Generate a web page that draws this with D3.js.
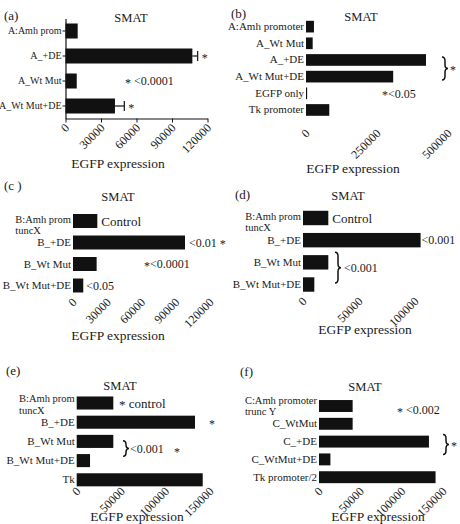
<!DOCTYPE html>
<html>
<head>
<meta charset="utf-8">
<script src="https://cdn.jsdelivr.net/npm/d3@7"></script>
<style>
  body { margin: 0; background: #fff; }
  svg text { font-family: "Liberation Serif", "Times New Roman", serif; fill: #1a1a1a; }
</style>
</head>
<body>
<div id="chart"></div>
<script>
// ---- data ----
var catsA = ["A:Amh prom", "A_+DE", "A_Wt Mut", "A_Wt Mut+DE"];
var valsA = [10300, 107200, 9500, 41800];
var errA = [0, 4500, 0, 7900];
var ticksA = [0, 30000, 60000, 90000, 120000];

var catsB = ["A:Amh promoter", "A_Wt Mut", "A_+DE", "A_Wt Mut+DE", "EGFP only", "Tk promoter"];
var valsB = [28000, 23500, 422500, 307000, 4000, 82000];
var ticksB = [0, 250000, 500000];

var catsC = ["B:Amh prom\ntuncX", "B_+DE", "B_Wt Mut", "B_Wt Mut+DE"];
var valsC = [21300, 98100, 20700, 9000];
var ticksC = [0, 30000, 60000, 90000, 120000];

var catsD = ["B:Amh prom\ntuncX", "B_+DE", "B_Wt Mut", "B_Wt Mut+DE"];
var valsD = [22600, 105000, 22600, 10100];
var ticksD = [0, 50000, 100000];

var catsE = ["B:Amh prom\ntuncX", "B_+DE", "B_Wt Mut", "B_Wt Mut+DE", "Tk"];
var valsE = [41200, 133100, 41200, 15000, 141800];
var ticksE = [0, 50000, 100000, 150000];

var catsF = ["C:Amh promoter\ntrunc Y", "C_WtMut", "C_+DE", "C_WtMut+DE", "Tk promoter/2"];
var valsF = [40700, 40700, 133000, 13800, 141000];
var ticksF = [0, 50000, 100000, 150000];

(function() {
  var width = 460, height = 524;

  var svg = d3.select("#chart")
    .append("svg")
    .attr("width", width)
    .attr("height", height);

  // layout of each small panel (positions only, values come from the arrays above)
  var panels = [
    { letter: "(a)", lx: 4, ly: 20, tx: 131, ty: 22, cats: catsA, vals: valsA, err: errA, ticks: ticksA,
      xr: [65.5, 207.5], max: 120000, yr: [18.5, 118.5], pad: 0.4, axisY: 118.5, axes: true, catSize: 10,
      labX: 118, labY: 168,
      notes: [ { row: 1, after: "err", gap: 4, text: "*" },
               { row: 3, after: "err", gap: 4, text: "*" },
               { row: 2, x: 125, text: "* <0.0001" } ],
      braces: [] },
    { letter: "(b)", lx: 231, ly: 18, tx: 361, ty: 21, cats: catsB, vals: valsB, ticks: ticksB,
      xr: [306, 448], max: 500000, yr: [18.3, 118.3], pad: 0.3, axisY: 124, catSize: 11,
      labX: 353, labY: 173,
      notes: [ { row: 4, x: 382, text: "*<0.05" } ],
      braces: [ { from: 2, to: 3, x: 442, d0: -3, d1: 3.4, text: "*", tx: 450 } ] },
    { letter: "(c )", lx: 4, ly: 190, tx: 118, ty: 201, cats: catsC, vals: valsC, ticks: ticksC,
      xr: [73, 210], max: 120000, yr: [210.25, 296.25], pad: 0.35, axisY: 293, catSize: 11, twoLineShift: -2,
      labX: 118, labY: 340,
      notes: [ { row: 0, after: "bar", gap: 4, text: "Control", size: 13 },
               { row: 1, after: "bar", gap: 4, text: "<0.01 *" },
               { row: 2, x: 144, text: "*<0.0001" },
               { row: 3, after: "bar", gap: 3, text: "<0.05" } ],
      braces: [] },
    { letter: "(d)", lx: 235, ly: 199, tx: 348, ty: 200, cats: catsD, vals: valsD, ticks: ticksD,
      xr: [303, 415], max: 100000, yr: [206.9, 295.6], pad: 0.35, axisY: 292, catSize: 11, twoLineShift: -2,
      labX: 365, labY: 334,
      notes: [ { row: 0, after: "bar", gap: 4, text: "Control", size: 13 },
               { row: 1, after: "bar", gap: 1, text: "<0.001" } ],
      braces: [ { from: 2, to: 3, x: 335, d0: -10, d1: -1.5, text: "<0.001", tx: 344 } ] },
    { letter: "(e)", lx: 6, ly: 375, tx: 120, ty: 390, cats: catsE, vals: valsE, ticks: ticksE,
      xr: [76.7, 210], max: 150000, yr: [393.4, 489.4], pad: 0.32, axisY: 482, catSize: 11, twoLineShift: -4.5,
      labX: 137, labY: 521,
      notes: [ { row: 0, x: 119, text: "* control", size: 13 },
               { row: 1, x: 209, text: "*" },
               { row: 2, dy: 8.5, x: 174, text: "*" } ],
      braces: [ { from: 2, to: 3, x: 123, d0: -0.7, d1: -4.3, text: "<0.001", tx: 130 } ] },
    { letter: "(f)", lx: 240, ly: 376, tx: 365, ty: 391, cats: catsF, vals: valsF, ticks: ticksF,
      xr: [319, 443], max: 150000, yr: [397.1, 486.1], pad: 0.33, axisY: 482, catSize: 11, twoLineShift: -6,
      labX: 378, labY: 521,
      notes: [ { row: 0, dy: 4, x: 397, text: "* <0.002" } ],
      braces: [ { from: 2, to: 3, x: 443, d0: -7, d1: -4.8, text: "*", tx: 451 } ] }
  ];

  // a curly "}" between y0 and y1
  function bracePath(x, y0, y1, w) {
    var mid = (y0 + y1) / 2, q = Math.min(4, (y1 - y0) / 4), h = w / 2;
    return "M" + x + "," + y0 +
      " Q" + (x + h) + "," + y0 + " " + (x + h) + "," + (y0 + q) +
      " L" + (x + h) + "," + (mid - q) +
      " Q" + (x + h) + "," + mid + " " + (x + w) + "," + mid +
      " Q" + (x + h) + "," + mid + " " + (x + h) + "," + (mid + q) +
      " L" + (x + h) + "," + (y1 - q) +
      " Q" + (x + h) + "," + y1 + " " + x + "," + y1;
  }

  // text with the asterisks pulled down a bit, like in the figure
  function starText(g, str, tx, ty, size) {
    var t = g.append("text")
      .attr("x", tx).attr("y", ty)
      .attr("font-size", size)
      .attr("xml:space", "preserve");
    var parts = str.split("*");
    parts.forEach(function(part, i) {
      if (i > 0) {
        t.append("tspan").text("*").attr("dy", "0.12em");
        t.append("tspan").text(part).attr("dy", "-0.12em");
      } else if (part.length) {
        t.append("tspan").text(part);
      }
    });
    return t;
  }

  panels.forEach(function(p) {
    var g = svg.append("g");

    var x = d3.scaleLinear().domain([0, p.max]).range(p.xr);
    var y = d3.scaleBand().domain(p.cats).range(p.yr)
      .paddingInner(p.pad).paddingOuter(p.pad / 2);

    // panel letter + title
    g.append("text").text(p.letter)
      .attr("x", p.lx).attr("y", p.ly)
      .attr("font-size", 13);
    g.append("text").text("SMAT")
      .attr("x", p.tx).attr("y", p.ty)
      .attr("text-anchor", "middle")
      .attr("font-size", 12.5);

    // bars
    g.selectAll(".bar")
      .data(p.vals)
      .enter().append("rect")
      .attr("class", "bar")
      .attr("x", x(0))
      .attr("y", function(d, i) { return y(p.cats[i]); })
      .attr("width", function(d) { return x(d) - x(0); })
      .attr("height", y.bandwidth())
      .attr("fill", "#111");

    // error bars (only panel a has them)
    if (p.err) {
      p.vals.forEach(function(v, i) {
        if (!p.err[i]) return;
        var cy = y(p.cats[i]) + y.bandwidth() / 2;
        g.append("line")
          .attr("x1", x(v)).attr("x2", x(v + p.err[i]))
          .attr("y1", cy).attr("y2", cy)
          .attr("stroke", "#111").attr("stroke-width", 1.2);
        g.append("line")
          .attr("x1", x(v + p.err[i])).attr("x2", x(v + p.err[i]))
          .attr("y1", cy - 5).attr("y2", cy + 5)
          .attr("stroke", "#111").attr("stroke-width", 1.2);
      });
    }

    // category axis
    var yAxis = g.append("g")
      .attr("transform", "translate(" + x(0) + ",0)")
      .call(d3.axisLeft(y).tickSize(p.axes ? 3 : 0).tickPadding(p.axes ? 1 : 2).tickSizeOuter(0));
    yAxis.selectAll("text")
      .attr("font-size", p.catSize)
      .attr("font-family", null)
      .attr("fill", "#1a1a1a")
      .each(function(d) {
        var lines = d.split("\n");
        if (lines.length < 2) return;
        // two line label: first line ends at the bar, second starts under the first
        var t = d3.select(this).attr("font-size", 10.5).text(lines[0]);
        var w = this.getComputedTextLength();
        var shift = p.twoLineShift || 0;
        t.text(null).attr("dy", null).attr("y", shift + 3.7);
        t.append("tspan").text(lines[0]);
        t.append("tspan").text(lines[1])
          .attr("x", -2 - w)
          .attr("dy", 11.7)
          .attr("text-anchor", "start");
      });

    // value axis with slanted tick labels
    var xAxis = g.append("g")
      .attr("transform", "translate(0," + p.axisY + ")")
      .call(d3.axisBottom(x).tickValues(p.ticks).tickFormat(d3.format("d"))
        .tickSize(p.axes ? 4 : 0).tickSizeOuter(0));
    xAxis.selectAll("text")
      .attr("x", 0).attr("y", 0).attr("dy", null)
      .attr("text-anchor", "end")
      .attr("transform", "translate(4,10) rotate(-45)")
      .attr("font-size", 12)
      .attr("font-family", null)
      .attr("fill", "#1a1a1a");

    if (p.axes) {
      yAxis.select(".domain").attr("stroke", "#111").attr("stroke-width", 1.2);
      xAxis.select(".domain").attr("stroke", "#111").attr("stroke-width", 1.2);
      yAxis.selectAll(".tick line").attr("stroke", "#111");
      xAxis.selectAll(".tick line").attr("stroke", "#111");
    } else {
      yAxis.select(".domain").remove();
      xAxis.select(".domain").remove();
    }

    g.append("text").text("EGFP expression")
      .attr("x", p.labX).attr("y", p.labY)
      .attr("text-anchor", "middle")
      .attr("font-size", 13.5);

    // significance notes
    p.notes.forEach(function(n) {
      var i = n.row, v = p.vals[i];
      var cy = y(p.cats[i]) + y.bandwidth() / 2 + (n.dy || 0);
      var nx = n.x;
      if (n.after === "bar") nx = x(v) + n.gap;
      if (n.after === "err") nx = x(v + p.err[i]) + n.gap;
      var sz = n.size || 12;
      starText(g, n.text, nx, cy + sz * 0.35, sz);
    });

    p.braces.forEach(function(b) {
      var y0 = y(p.cats[b.from]) + y.bandwidth() / 2 + b.d0;
      var y1 = y(p.cats[b.to]) + y.bandwidth() / 2 + b.d1;
      g.append("path")
        .attr("d", bracePath(b.x, y0, y1, 6))
        .attr("fill", "none")
        .attr("stroke", "#111")
        .attr("stroke-width", 1.5);
      starText(g, b.text, b.tx, (y0 + y1) / 2 + 12 * 0.35, 12);
    });
  });
})();
</script>
</body>
</html>
